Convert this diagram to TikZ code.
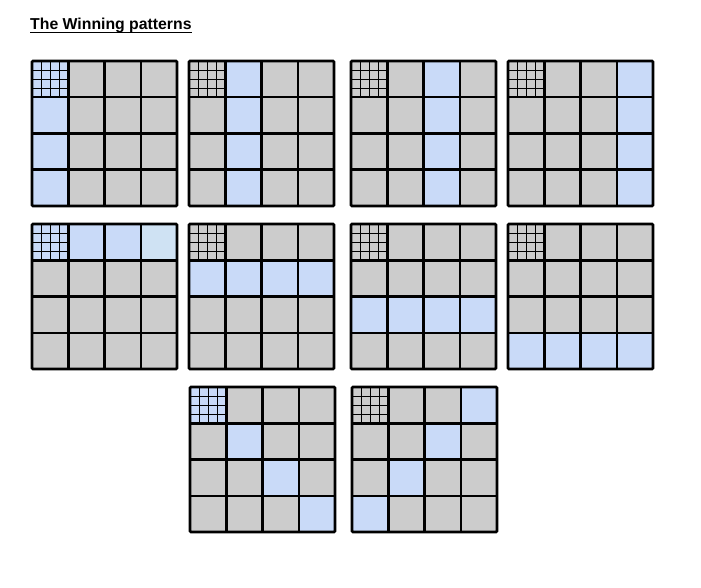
\documentclass[tikz,border=0pt]{standalone}
\usepackage{fontspec}
\setmainfont{Liberation Sans}
\definecolor{cgray}{HTML}{CCCCCC}
\definecolor{cblue}{HTML}{C9DAF8}
\definecolor{clight}{HTML}{CFE2F3}
\tikzset{
  gridline/.style={draw=black, line width=2.5pt},
  subline/.style={draw=black, line width=0.7pt},
  outerline/.style={draw=black, line width=2.7pt, rounded corners=1pt},
}
\newcommand\wgrid[3]{%
\begin{scope}[shift={(#1,#2)}]
  \fill[cgray] (0,0) rectangle (145,145);
  \foreach \cc/\rr/\col in {#3} {\fill[\col] (\cc*36.25,\rr*36.25) rectangle ++(36.25,36.25);}
  \foreach \i in {1,2,3} {
    \draw[subline] (\i*9.0625,0) -- (\i*9.0625,36.25);
    \draw[subline] (0,\i*9.0625) -- (36.25,\i*9.0625);
  }
  \foreach \i in {1,2,3} {
    \draw[gridline] (\i*36.25,0) -- (\i*36.25,145);
    \draw[gridline] (0,\i*36.25) -- (145,\i*36.25);
  }
  \draw[outerline] (0,0) rectangle (145,145);
\end{scope}}
\begin{document}
\begin{tikzpicture}[x=1pt,y=-1pt]
\useasboundingbox (0,0) rectangle (701,588);
\node[anchor=base west, font=\bfseries\fontsize{15.8}{18}\selectfont, inner sep=0] (title) at (30,30) {The Winning patterns};
\draw[line width=1.3pt] ([yshift=-2.6pt]title.base west) -- ([yshift=-2.6pt]title.base east);
% row 1: columns
\wgrid{32}{61}{0/0/cblue,0/1/cblue,0/2/cblue,0/3/cblue}
\wgrid{189}{61}{1/0/cblue,1/1/cblue,1/2/cblue,1/3/cblue}
\wgrid{351}{61}{2/0/cblue,2/1/cblue,2/2/cblue,2/3/cblue}
\wgrid{508}{61}{3/0/cblue,3/1/cblue,3/2/cblue,3/3/cblue}
% row 2: rows
\wgrid{32}{224}{0/0/cblue,1/0/cblue,2/0/cblue,3/0/clight}
\wgrid{189}{224}{0/1/cblue,1/1/cblue,2/1/cblue,3/1/cblue}
\wgrid{351}{224}{0/2/cblue,1/2/cblue,2/2/cblue,3/2/cblue}
\wgrid{508}{224}{0/3/cblue,1/3/cblue,2/3/cblue,3/3/cblue}
% row 3: diagonals
\wgrid{190}{387}{0/0/cblue,1/1/cblue,2/2/cblue,3/3/cblue}
\wgrid{352}{387}{3/0/cblue,2/1/cblue,1/2/cblue,0/3/cblue}
\end{tikzpicture}
\end{document}
